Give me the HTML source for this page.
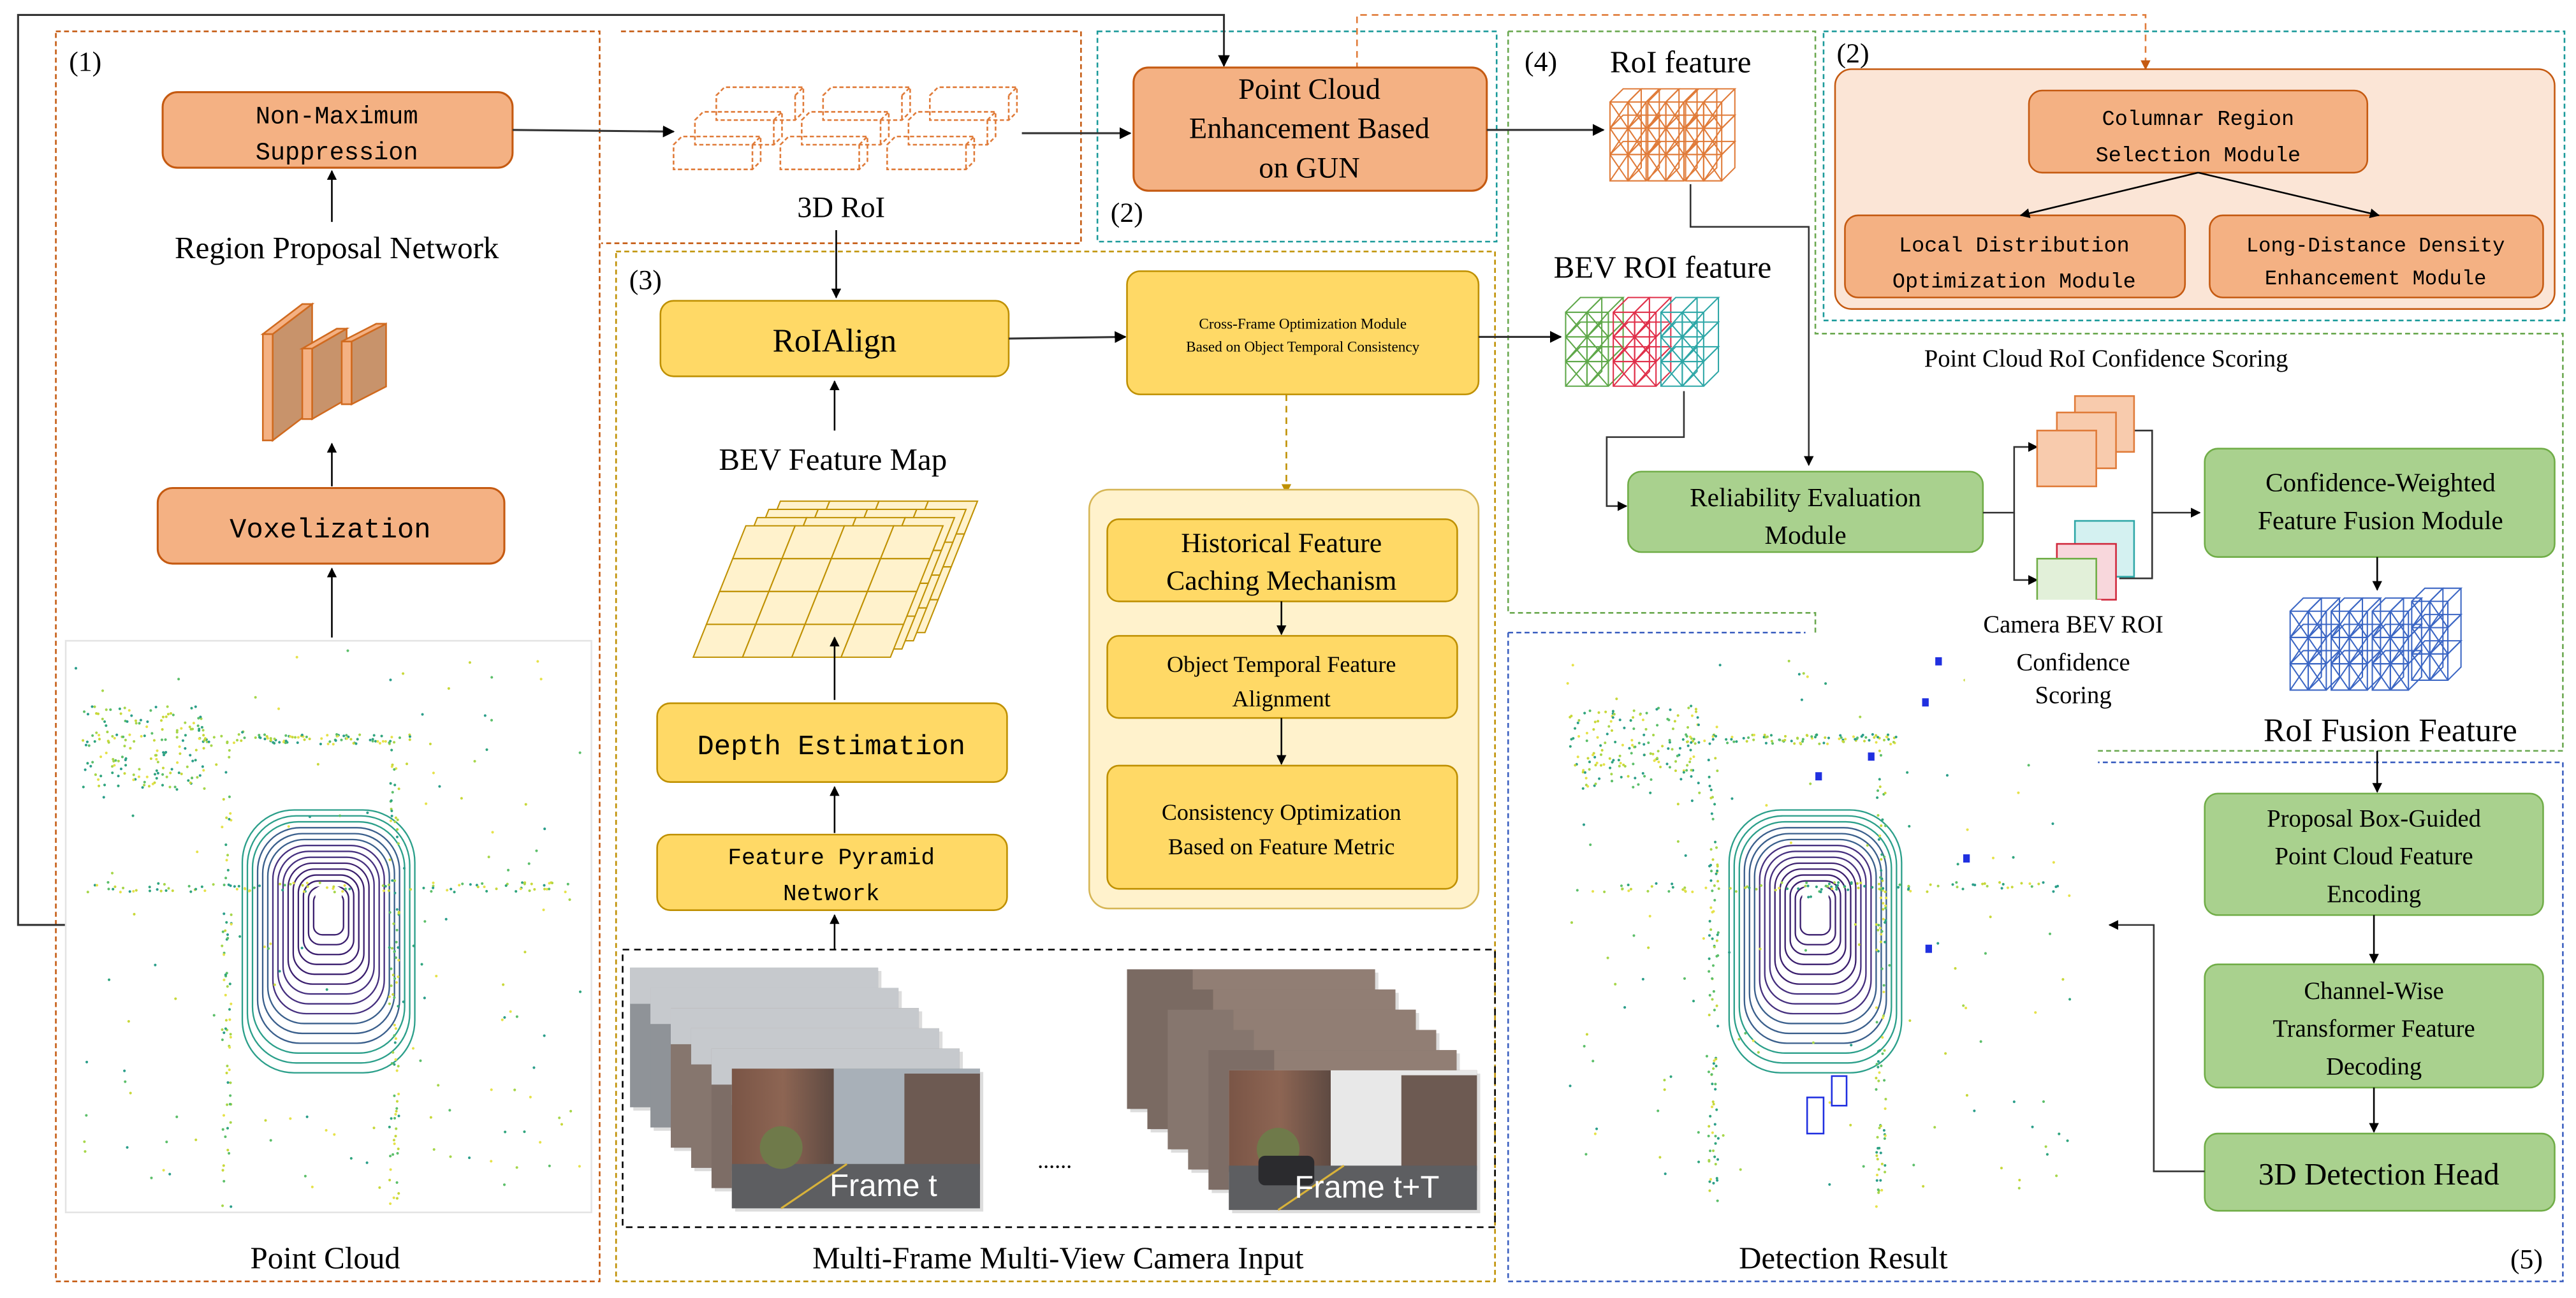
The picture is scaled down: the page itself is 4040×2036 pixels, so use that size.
<!DOCTYPE html>
<html><head><meta charset="utf-8"><style>
html,body{margin:0;padding:0;background:#fff;}
svg{display:block;}
text{font-family:"Liberation Serif",serif;fill:#000;}
.m{font-family:"Liberation Mono",monospace;}
</style></head><body>
<svg id="s" width="4040" height="2036" viewBox="0 0 1568 790" xmlns="http://www.w3.org/2000/svg">
<defs>
<marker id="a" viewBox="0 0 10 10" refX="9" refY="5" markerWidth="6" markerHeight="6" orient="auto"><path d="M0,0L10,5L0,10z" fill="#000"/></marker>
<marker id="ao" viewBox="0 0 10 10" refX="9" refY="5" markerWidth="6" markerHeight="6" orient="auto"><path d="M0,0L10,5L0,10z" fill="#c55a11"/></marker>
<marker id="ay" viewBox="0 0 10 10" refX="9" refY="5" markerWidth="6" markerHeight="6" orient="auto"><path d="M0,0L10,5L0,10z" fill="#bf9000"/></marker>
<linearGradient id="bld" x1="0" y1="0" x2="1" y2="0"><stop offset="0" stop-color="#7a5546"/><stop offset="0.5" stop-color="#8d6553"/><stop offset="1" stop-color="#5e4a42"/></linearGradient>
</defs>

<g fill="none" stroke-width="1" stroke-dasharray="3,2">
<rect x="34" y="19" width="331" height="761" stroke="#c55a11"/>
<path d="M378,19H658V148H366" stroke="#c55a11"/>
<rect x="668" y="19" width="243" height="128" stroke="#1b9a9a"/>
<rect x="375" y="153" width="535" height="627" stroke="#bf9000"/>
<path d="M918,19H1105V203H1560V457H1277 M918,19V373H1105V385" stroke="#6aa84f"/>
<rect x="1110" y="19" width="451" height="176" stroke="#1b9a9a"/>
<path d="M918,385H1099 M918,385V780H1560V464H1277" stroke="#3b5fc0"/>
<rect x="379" y="578" width="531" height="169" stroke="#000" stroke-dasharray="4,3"/>
</g>

<path d="M40,563H11V9H745V40" fill="none" stroke="#333" stroke-width="1.2" marker-end="url(#a)"/>
<path d="M826,42V9H1306V42" fill="none" stroke="#e07b39" stroke-width="1" stroke-dasharray="4,3" marker-end="url(#ao)"/>

<text x="42" y="43" font-size="17">(1)</text>
<rect x="99" y="56" width="213" height="46" rx="9" fill="#f4b183" stroke="#c55a11" stroke-width="1.2"/>
<text class="m" x="205" y="75" font-size="15" text-anchor="middle">Non-Maximum</text>
<text class="m" x="205" y="97" font-size="15" text-anchor="middle">Suppression</text>
<line x1="202" y1="135" x2="202" y2="104" stroke="#000" marker-end="url(#a)"/>
<text x="205" y="157" font-size="19" text-anchor="middle">Region Proposal Network</text>
<g id="cnn" stroke="#d06a1f" stroke-width="1"></g>
<line x1="202" y1="296" x2="202" y2="270" stroke="#000" marker-end="url(#a)"/>
<rect x="96" y="297" width="211" height="46" rx="9" fill="#f4b183" stroke="#c55a11" stroke-width="1.2"/>
<text class="m" x="201" y="327" font-size="17" text-anchor="middle">Voxelization</text>
<line x1="202" y1="388" x2="202" y2="346" stroke="#000" marker-end="url(#a)"/>
<rect x="40" y="390" width="320" height="348" fill="#fff" stroke="#e4e4e4"/>
<g id="pc1"></g>
<text x="198" y="772" font-size="19" text-anchor="middle">Point Cloud</text>

<line x1="312" y1="79" x2="410" y2="80" stroke="#333" stroke-width="1.2" marker-end="url(#a)"/>
<g id="roi" fill="none" stroke="#e07b39" stroke-width="1" stroke-dasharray="2.5,1.5"></g>
<line x1="622" y1="81" x2="688" y2="81" stroke="#333" stroke-width="1.2" marker-end="url(#a)"/>
<text x="512" y="132" font-size="18" text-anchor="middle">3D RoI</text>
<line x1="509" y1="140" x2="509" y2="181" stroke="#000" marker-end="url(#a)"/>

<rect x="690" y="41" width="215" height="75" rx="9" fill="#f4b183" stroke="#c55a11" stroke-width="1.2"/>
<text x="797" y="60" font-size="18" text-anchor="middle">Point Cloud</text>
<text x="797" y="84" font-size="18" text-anchor="middle">Enhancement Based</text>
<text x="797" y="108" font-size="18" text-anchor="middle">on GUN</text>
<text x="676" y="135" font-size="17">(2)</text>
<line x1="905" y1="79" x2="976" y2="79" stroke="#333" stroke-width="1.2" marker-end="url(#a)"/>

<text x="383" y="176" font-size="17">(3)</text>
<rect x="402" y="183" width="212" height="46" rx="8" fill="#ffd966" stroke="#bf9000" stroke-width="1"/>
<text x="508" y="214" font-size="20" text-anchor="middle">RoIAlign</text>
<line x1="614" y1="206" x2="685" y2="205" stroke="#333" stroke-width="1.2" marker-end="url(#a)"/>
<rect x="686" y="165" width="214" height="75" rx="8" fill="#ffd966" stroke="#bf9000" stroke-width="1"/>
<text x="793" y="200" font-size="9" text-anchor="middle">Cross-Frame Optimization Module</text>
<text x="793" y="214" font-size="9" text-anchor="middle">Based on Object Temporal Consistency</text>
<line x1="900" y1="205" x2="950" y2="205" stroke="#333" stroke-width="1.2" marker-end="url(#a)"/>
<line x1="783" y1="240" x2="783" y2="300" stroke="#bf9000" stroke-dasharray="4,3" marker-end="url(#ay)"/>
<line x1="508" y1="262" x2="508" y2="232" stroke="#000" marker-end="url(#a)"/>
<text x="507" y="286" font-size="19" text-anchor="middle">BEV Feature Map</text>
<g id="grid" fill="#fff2cc" stroke="#bf9000" stroke-width="0.8"></g>
<line x1="508" y1="426" x2="508" y2="388" stroke="#000" marker-end="url(#a)"/>
<rect x="400" y="428" width="213" height="48" rx="8" fill="#ffd966" stroke="#bf9000"/>
<text class="m" x="506" y="459" font-size="17" text-anchor="middle">Depth Estimation</text>
<line x1="508" y1="507" x2="508" y2="479" stroke="#000" marker-end="url(#a)"/>
<rect x="400" y="508" width="213" height="46" rx="8" fill="#ffd966" stroke="#bf9000"/>
<text class="m" x="506" y="526" font-size="14" text-anchor="middle">Feature Pyramid</text>
<text class="m" x="506" y="548" font-size="14" text-anchor="middle">Network</text>
<line x1="508" y1="578" x2="508" y2="557" stroke="#000" marker-end="url(#a)"/>
<rect x="663" y="298" width="237" height="255" rx="12" fill="#fff2cc" stroke="#d6b656"/>
<rect x="674" y="316" width="213" height="50" rx="7" fill="#ffd966" stroke="#bf9000"/>
<text x="780" y="336" font-size="17" text-anchor="middle">Historical Feature</text>
<text x="780" y="359" font-size="17" text-anchor="middle">Caching Mechanism</text>
<line x1="780" y1="366" x2="780" y2="386" stroke="#000" marker-end="url(#a)"/>
<rect x="674" y="387" width="213" height="50" rx="7" fill="#ffd966" stroke="#bf9000"/>
<text x="780" y="409" font-size="14" text-anchor="middle">Object Temporal Feature</text>
<text x="780" y="430" font-size="14" text-anchor="middle">Alignment</text>
<line x1="780" y1="437" x2="780" y2="465" stroke="#000" marker-end="url(#a)"/>
<rect x="674" y="466" width="213" height="75" rx="7" fill="#ffd966" stroke="#bf9000"/>
<text x="780" y="499" font-size="14" text-anchor="middle">Consistency Optimization</text>
<text x="780" y="520" font-size="14" text-anchor="middle">Based on Feature Metric</text>
<g id="frames"></g>
<text x="505" y="728" font-size="19" style="fill:#fff;font-family:'Liberation Sans',sans-serif">Frame t</text>
<text x="788" y="729" font-size="19" style="fill:#fff;font-family:'Liberation Sans',sans-serif">Frame t+T</text>
<text x="642" y="711" font-size="14" text-anchor="middle">......</text>
<text x="644" y="772" font-size="19" text-anchor="middle">Multi-Frame Multi-View Camera Input</text>

<text x="928" y="43" font-size="17">(4)</text>
<text x="980" y="44" font-size="19">RoI  feature</text>
<g id="cubeO"></g>
<text x="1012" y="169" font-size="19" text-anchor="middle">BEV ROI feature</text>
<g id="cubeB"></g>
<path d="M1029,112V138H1101V283" fill="none" stroke="#333" marker-end="url(#a)"/>
<path d="M1025,238V266H978V308H990" fill="none" stroke="#333" marker-end="url(#a)"/>
<rect x="991" y="287" width="216" height="49" rx="8" fill="#a9d18e" stroke="#70ad47"/>
<text x="1099" y="308" font-size="16" text-anchor="middle">Reliability Evaluation</text>
<text x="1099" y="331" font-size="16" text-anchor="middle">Module</text>

<text x="1118" y="38" font-size="17">(2)</text>
<rect x="1117" y="42" width="438" height="146" rx="10" fill="#fbe5d6" stroke="#c55a11"/>
<rect x="1235" y="55" width="206" height="50" rx="8" fill="#f4b183" stroke="#c55a11"/>
<text class="m" x="1338" y="76" font-size="13" text-anchor="middle">Columnar Region</text>
<text class="m" x="1338" y="98" font-size="13" text-anchor="middle">Selection Module</text>
<rect x="1123" y="131" width="207" height="50" rx="8" fill="#f4b183" stroke="#c55a11"/>
<text class="m" x="1226" y="153" font-size="13" text-anchor="middle">Local Distribution</text>
<text class="m" x="1226" y="175" font-size="13" text-anchor="middle">Optimization Module</text>
<rect x="1345" y="131" width="203" height="50" rx="8" fill="#f4b183" stroke="#c55a11"/>
<text class="m" x="1446" y="153" font-size="12.5" text-anchor="middle">Long-Distance Density</text>
<text class="m" x="1446" y="173" font-size="12.5" text-anchor="middle">Enhancement Module</text>
<line x1="1338" y1="105" x2="1230" y2="131" stroke="#000" marker-end="url(#a)"/>
<line x1="1338" y1="105" x2="1448" y2="131" stroke="#000" marker-end="url(#a)"/>

<rect x="950" y="390" width="325" height="350" fill="#fff"/>
<g id="pc2"></g>

<text x="1282" y="223" font-size="15" text-anchor="middle">Point Cloud RoI Confidence Scoring</text>
<path d="M1207,312H1226V272H1240" fill="none" stroke="#333" marker-end="url(#a)"/>
<path d="M1226,312V353H1240" fill="none" stroke="#333" marker-end="url(#a)"/>
<path d="M1290,262H1310V352H1290 M1310,312H1339" fill="none" stroke="#333" marker-end="url(#a)"/>
<rect x="1263" y="241" width="36" height="34" fill="#f8cbad" stroke="#e07b39"/>
<rect x="1252" y="251" width="36" height="34" fill="#f8cbad" stroke="#e07b39"/>
<rect x="1240" y="262" width="36" height="34" fill="#f8cbad" stroke="#e07b39"/>
<rect x="1263" y="317" width="36" height="34" fill="#d4f1f1" stroke="#2ea7a7"/>
<rect x="1252" y="331" width="36" height="34" fill="#f8d7dc" stroke="#d0283c"/>
<rect x="1240" y="340" width="36" height="34" fill="#e2f0d9" stroke="#70ad47"/>
<rect x="1239" y="365" width="40" height="12" fill="#fff"/>
<rect x="1196" y="368" width="76" height="66" fill="#fff"/>
<text x="1262" y="385" font-size="15" text-anchor="middle">Camera BEV ROI</text>
<text x="1262" y="408" font-size="15" text-anchor="middle">Confidence</text>
<text x="1262" y="428" font-size="15" text-anchor="middle">Scoring</text>
<rect x="1342" y="273" width="213" height="66" rx="8" fill="#a9d18e" stroke="#70ad47"/>
<text x="1449" y="299" font-size="16" text-anchor="middle">Confidence-Weighted</text>
<text x="1449" y="322" font-size="16" text-anchor="middle">Feature Fusion Module</text>
<line x1="1447" y1="339" x2="1447" y2="359" stroke="#000" marker-end="url(#a)"/>
<g id="cubeF"></g>
<text x="1455" y="451" font-size="20" text-anchor="middle">RoI Fusion Feature</text>
<line x1="1447" y1="457" x2="1447" y2="482" stroke="#000" marker-end="url(#a)"/>

<text x="1122" y="772" font-size="19" text-anchor="middle">Detection Result</text>
<rect x="1342" y="483" width="206" height="74" rx="8" fill="#a9d18e" stroke="#70ad47"/>
<text x="1445" y="503" font-size="15" text-anchor="middle">Proposal Box-Guided</text>
<text x="1445" y="526" font-size="15" text-anchor="middle">Point Cloud Feature</text>
<text x="1445" y="549" font-size="15" text-anchor="middle">Encoding</text>
<line x1="1445" y1="557" x2="1445" y2="586" stroke="#000" marker-end="url(#a)"/>
<rect x="1342" y="587" width="206" height="75" rx="8" fill="#a9d18e" stroke="#70ad47"/>
<text x="1445" y="608" font-size="15" text-anchor="middle">Channel-Wise</text>
<text x="1445" y="631" font-size="15" text-anchor="middle">Transformer Feature</text>
<text x="1445" y="654" font-size="15" text-anchor="middle">Decoding</text>
<line x1="1445" y1="662" x2="1445" y2="689" stroke="#000" marker-end="url(#a)"/>
<rect x="1342" y="690" width="213" height="47" rx="8" fill="#a9d18e" stroke="#70ad47"/>
<text x="1448" y="721" font-size="19" text-anchor="middle">3D Detection Head</text>
<path d="M1342,713H1311V563H1284" fill="none" stroke="#333" marker-end="url(#a)"/>
<text x="1528" y="772" font-size="17">(5)</text>
</svg>
<script>
var NS="http://www.w3.org/2000/svg";
function el(p,t,a,before){var e=document.createElementNS(NS,t);for(var k in a)e.setAttribute(k,a[k]);p.appendChild(e);return e;}
var seed=7;function r(){seed=(seed*16807)%2147483647;return seed/2147483647;}
var cn=document.getElementById('cnn');
[[160,185,268,30],[184,200,255,27],[208,197,246,27]].forEach(function(b){var x=b[0],t=b[1],bt=b[2],w=b[3],h=bt-t,s=h*0.22;
el(cn,'polygon',{points:(x+6)+','+(t+s)+' '+(x+w)+','+t+' '+(x+w)+','+(bt-s)+' '+(x+6)+','+bt,fill:'#c8936b'});
el(cn,'polygon',{points:x+','+(t+s)+' '+(x+6)+','+(t+s)+' '+(x+6)+','+bt+' '+x+','+bt,fill:'#f4b183'});
el(cn,'polygon',{points:x+','+(t+s)+' '+(x+w-6)+','+t+' '+(x+w)+','+t+' '+(x+6)+','+(t+s),fill:'#f4b183'});});
var g=document.getElementById('roi');
for(var row=0;row<3;row++)for(var c=0;c<3;c++){var x=436-row*13+c*65,y=58+row*15,w=48,h=15,d=5;
el(g,'path',{d:'M'+x+','+y+'l'+d+',-'+d+'h'+w+'v'+h+'l-'+d+','+d+'h-'+w+'z M'+(x+w)+','+y+'l'+d+',-'+d+' M'+(x+w)+','+y+'v'+h});}
var gg=document.getElementById('grid');
for(var k=3;k>=0;k--){var ox=430+k*7,oy=300-k*5;
for(var i=0;i<4;i++)for(var j=0;j<4;j++){var x0=ox+j*30+(3-i)*8,y0=oy+i*20+20;
el(gg,'polygon',{points:(x0)+','+y0+' '+(x0+30)+','+y0+' '+(x0+22)+','+(y0+20)+' '+(x0-8)+','+(y0+20)});}}
var fr=document.getElementById('frames');
function stack(x0,y0,tall){var W=151,H=85;for(var i=0;i<6;i++){var x=x0+i*12.4,y=y0+i*12.3;
el(fr,'rect',{x:x+2,y:y+2,width:W,height:H,fill:'#bbb',opacity:0.5});
var base=i<2?(tall?'#7a6a62':'#8f9398'):(i<4?'#86766e':'#7d6d66');
el(fr,'rect',{x:x,y:y,width:W,height:H,fill:base});
el(fr,'rect',{x:x+(tall?40:0),y:y,width:W-(tall?40:0),height:22,fill:tall?'#917e74':'#c6c9cd'});
if(i==5){el(fr,'rect',{x:x,y:y,width:W,height:H,fill:tall?'#e8e8e8':'#a8b0b8'});
el(fr,'rect',{x:x,y:y,width:62,height:62,fill:'url(#bld)'});el(fr,'rect',{x:x+105,y:y+3,width:46,height:58,fill:'#6d5a52'});
el(fr,'polygon',{points:x+','+(y+58)+' '+(x+W)+','+(y+58)+' '+(x+W)+','+(y+H)+' '+x+','+(y+H),fill:'#5d5e61'});
el(fr,'path',{d:'M'+(x+30)+','+(y+H)+'L'+(x+70)+','+(y+58),stroke:'#d8b23a','stroke-width':1.2});
el(fr,'circle',{cx:x+30,cy:y+48,r:13,fill:'#6f7a4a'});
if(tall){el(fr,'rect',{x:x+18,y:y+52,width:34,height:18,rx:4,fill:'#2b2b2e'});}}}}
stack(383.5,589,false);stack(686,590,true);
function lat(id,blocks,w,h,d){var gp=document.getElementById(id);
blocks.forEach(function(b){var x=b[0],y=b[1],col=b[2];
for(var cx=0;cx<2;cx++)for(var cy=0;cy<3;cy++){var X=x+cx*w,Y=y+cy*h;
el(gp,'path',{d:'M'+X+','+Y+'h'+w+'v'+h+'h-'+w+'z M'+X+','+Y+'l'+d+',-'+d+'h'+w+'l-'+d+','+d+' M'+(X+w)+','+(Y+h)+'l'+d+',-'+d+'v-'+h+' M'+X+','+(Y+h)+'l'+w+',-'+h+' M'+X+','+Y+'l'+w+','+h,fill:'none',stroke:col,'stroke-width':0.8});}});}
lat('cubeO',[[980,62,'#e07b39'],[1003,62,'#e07b39'],[1026,62,'#e07b39']],11,16,8);
lat('cubeB',[[953,190,'#5fa84a'],[982,190,'#e0304a'],[1011,190,'#2ea7a7']],13,15,9);
lat('cubeF',[[1394,372,'#3b66c4'],[1419,372,'#3b66c4'],[1444,372,'#3b66c4'],[1468,366,'#3b66c4']],11,16,8);
function pc(id,cx,cy,det){var gp=document.getElementById(id);
for(var i=0;i<16;i++){var rx=6+i*3.1,ry=8+i*4.8;var c=i<7?'#3b1f6e':(i<10?'#46307f':(i<13?'#3a5f8c':'#2b9f8a'));
el(gp,'rect',{x:cx-rx,y:cy-ry+i*1.2,width:2*rx,height:2*ry,rx:rx*0.6,ry:ry*0.4,fill:'none',stroke:c,'stroke-width':0.9});}
el(gp,'path',{d:'M'+(cx-8)+','+(cy-14)+'q8,-6 16,0v22q-8,8 -16,0z',fill:'#fff'});
var cols=['#c8d83a','#a6d64a','#5cbf6a','#2b9e8a','#e6e24a','#30a57e'];
for(var i=0;i<650;i++){var t=r();var x,y;
if(t<0.25){x=cx-150+r()*80;y=cy-125+r()*50;}else if(t<0.4){x=cx-80+r()*130;y=cy-105+(r()-0.5)*6;}
else if(t<0.65){x=cx+(r()<0.5?-62:40)+(r()-0.5)*6;y=cy-100+r()*280;}else if(t<0.8){x=cx-150+r()*300;y=cy-15+(r()-0.5)*6;}else{x=cx-155+r()*310;y=cy-160+r()*330;}
el(gp,'circle',{cx:x,cy:y,r:0.8,fill:cols[Math.floor(r()*6)]});}
if(det){[[1105,470],[1170,425],[1195,520],[1172,575],[1178,400],[1137,458]].forEach(function(p){el(gp,'rect',{x:p[0],y:p[1],width:4,height:5,fill:'#2030e0'});});
el(gp,'rect',{x:1100,y:668,width:10,height:22,fill:'none',stroke:'#2030e0'});el(gp,'rect',{x:1115,y:655,width:9,height:18,fill:'none',stroke:'#2030e0'});}}
pc('pc1',200,555,false);pc('pc2',1105,555,true);
</script>
</body></html>
